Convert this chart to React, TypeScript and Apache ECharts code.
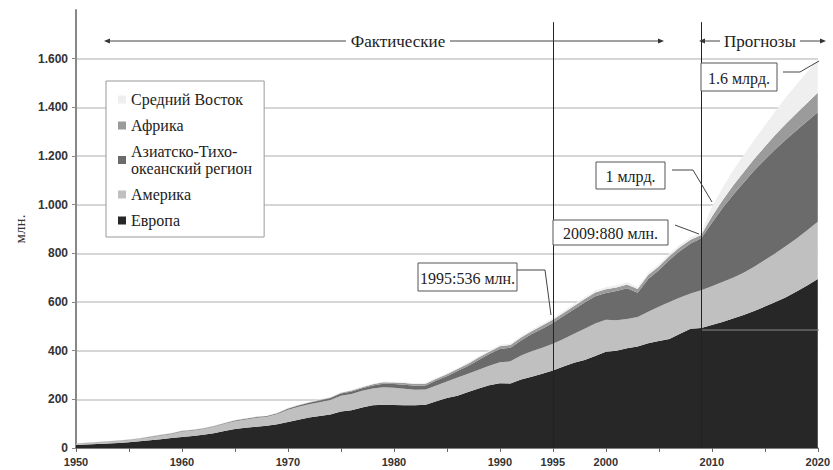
import React, { useEffect, useRef } from "react";
import * as echarts from "echarts";

const START_YEAR = 1950;

const europe = [
  12, 14, 16, 18, 21, 24, 28, 32, 36, 41,
  45, 49, 54, 61, 70, 78, 83, 87, 91, 98,
  107, 116, 125, 132, 138, 150, 155, 166, 176, 178,
  177, 176, 176, 178, 192, 205, 215, 230, 245, 258,
  266, 265, 282, 293, 305, 318, 335, 350, 362, 378,
  396, 400, 410, 417, 430, 440, 448, 470, 490, 493,
  505, 518, 532, 547, 563, 581, 600, 620, 643, 668,
  695,
];

const america = [
  5, 6, 7, 8, 8, 9, 10, 12, 15, 17,
  23, 23, 24, 26, 30, 32, 34, 37, 37, 42,
  50, 54, 55, 56, 59, 65, 67, 69, 69, 72,
  71, 68, 63, 62, 65, 68, 75, 75, 77, 80,
  86, 91, 98, 105, 107, 110, 113, 120, 128, 134,
  131, 125, 120, 121, 130, 140, 152, 148, 145, 155,
  160, 164, 168, 173, 182, 192, 200, 210, 218, 227,
  235,
];

const asiaPacific = [
  1, 1, 1, 1, 1, 1, 1, 2, 2, 2,
  2, 2, 2, 2, 2, 3, 3, 3, 3, 3,
  4, 5, 6, 7, 8, 9, 10, 11, 12, 14,
  15, 16, 17, 17, 20, 22, 26, 32, 40, 48,
  55, 56, 62, 70, 78, 86, 94, 100, 108, 112,
  110, 120, 127, 100, 135, 150, 173, 192, 205, 214,
  260, 303, 340, 370, 395, 412, 428, 438, 445, 448,
  450,
];

const africa = [
  1, 1, 1, 1, 1, 1, 1, 1, 1, 1,
  1, 1, 1, 1, 1, 1, 1, 1, 1, 1,
  2, 2, 2, 3, 3, 3, 4, 4, 5, 6,
  6, 7, 7, 7, 8, 8, 9, 9, 10, 10,
  11, 11, 12, 12, 13, 13, 13, 14, 14, 15,
  15, 15, 15, 15, 16, 16, 16, 16, 16, 13,
  25, 32, 38, 43, 48, 53, 59, 65, 70, 75,
  80,
];

const middleEast = [
  1, 1, 1, 1, 1, 1, 1, 1, 1, 1,
  1, 1, 1, 1, 1, 1, 1, 1, 1, 1,
  2, 2, 2, 2, 2, 2, 2, 2, 2, 2,
  3, 3, 3, 4, 4, 4, 4, 5, 5, 5,
  6, 6, 6, 7, 7, 7, 8, 8, 8, 8,
  9, 9, 9, 9, 9, 9, 10, 10, 10, 8,
  40, 52, 62, 70, 78, 87, 97, 108, 118, 127,
  135,
];

const years = europe.map((_, i) => String(START_YEAR + i));

const seriesNames = [
  "Европа",
  "Америка",
  "Азиатско-Тихоокеанский регион",
  "Африка",
  "Средний Восток",
];
const seriesColors = ["#272727", "#c0c0c0", "#6b6b6b", "#9b9b9b", "#efefef"];
const seriesValues = [europe, america, asiaPacific, africa, middleEast];

const legendOrder = [
  "Средний Восток",
  "Африка",
  "Азиатско-Тихоокеанский регион",
  "Америка",
  "Европа",
];

const xLabelYears = ["1950", "1960", "1970", "1980", "1990", "1995", "2000", "2010", "2020"];
const markerYears = ["1995", "2009"];

const SERIF = "'Liberation Serif', 'DejaVu Serif', serif";
const SANS = "'Liberation Sans', Arial, sans-serif";

function fmtThousands(v: number): string {
  const s = String(v);
  return s.length > 3 ? s.slice(0, s.length - 3) + "." + s.slice(s.length - 3) : s;
}

function boxLabel(x: number, y: number, w: number, h: number, text: string) {
  return [
    {
      type: "rect",
      shape: { x, y, width: w, height: h },
      style: { fill: "#fff", stroke: "#555", lineWidth: 1 },
      z: 100,
    },
    {
      type: "text",
      x: x + w / 2,
      y: y + h / 2 + 1,
      style: {
        text,
        font: `16px ${SERIF}`,
        fill: "#222",
        align: "center",
        verticalAlign: "middle",
      },
      z: 101,
    },
  ];
}

function leader(points: number[][]) {
  return {
    type: "polyline",
    shape: { points },
    style: { stroke: "#444", lineWidth: 1, fill: null },
    z: 100,
  };
}

function arrowHead(tipX: number, y: number, dir: number) {
  return {
    type: "polygon",
    shape: {
      points: [
        [tipX, y],
        [tipX - dir * 6, y - 2.5],
        [tipX - dir * 6, y + 2.5],
      ],
    },
    style: { fill: "#333" },
    z: 100,
  };
}

function hLine(x1: number, x2: number, y: number, color = "#444") {
  return {
    type: "line",
    shape: { x1, y1: y, x2, y2: y },
    style: { stroke: color, lineWidth: 1 },
    z: 100,
  };
}

export default function App() {
  const ref = useRef<HTMLDivElement>(null);

  useEffect(() => {
    if (!ref.current) return;
    const chart = echarts.init(ref.current, undefined, { renderer: "svg" });

    const series: any[] = seriesNames.map((name, si) => ({
      name,
      type: "line",
      stack: "total",
      symbol: "none",
      showSymbol: false,
      smooth: false,
      lineStyle: { width: 0 },
      areaStyle: { color: seriesColors[si], opacity: 1 },
      itemStyle: { color: seriesColors[si] },
      data: seriesValues[si],
    }));

    series[series.length - 1].markLine = {
      silent: true,
      symbol: "none",
      label: { show: false },
      lineStyle: { color: "#222", width: 1, type: "solid" },
      data: markerYears.map((yr) => [
        { coord: [yr, 1750] },
        { coord: [yr, 0] },
      ]),
    };

    const graphic: any[] = [
      arrowHead(104, 41, -1),
      hLine(108, 346, 41),
      {
        type: "text",
        x: 398,
        y: 41,
        style: {
          text: "Фактические",
          font: `17px ${SERIF}`,
          fill: "#222",
          align: "center",
          verticalAlign: "middle",
        },
        z: 100,
      },
      hLine(450, 660, 41),
      arrowHead(664, 41, 1),
      arrowHead(699, 41, -1),
      hLine(703, 720, 41),
      {
        type: "text",
        x: 760,
        y: 41,
        style: {
          text: "Прогнозы",
          font: `17px ${SERIF}`,
          fill: "#222",
          align: "center",
          verticalAlign: "middle",
        },
        z: 100,
      },
      hLine(800, 822, 41),
      arrowHead(826, 41, 1),
      ...boxLabel(418, 263, 99, 28, "1995:536 млн."),
      leader([
        [517, 270],
        [545, 270],
        [551, 315],
      ]),
      ...boxLabel(553, 220, 115, 25, "2009:880 млн."),
      leader([
        [675, 225],
        [699, 234],
      ]),
      ...boxLabel(596, 162, 69, 27, "1 млрд."),
      leader([
        [672, 170],
        [693, 170],
        [712, 202],
      ]),
      ...boxLabel(701, 63, 76, 28, "1.6 млрд."),
      leader([
        [783, 72],
        [800, 72],
        [819, 61],
      ]),
      hLine(702, 819, 330, "#8a8a8a"),
    ];

    chart.setOption({
      animation: false,
      backgroundColor: "#fff",
      grid: { left: 76, right: 14, top: 10, bottom: 22, containLabel: false },
      legend: {
        orient: "vertical",
        left: 106,
        top: 81,
        padding: [10, 12, 8, 12],
        itemGap: 9,
        itemWidth: 8,
        itemHeight: 8,
        icon: "rect",
        borderColor: "#999",
        borderWidth: 1,
        backgroundColor: "#fff",
        selectedMode: false,
        data: legendOrder,
        formatter: (name: string) =>
          name === "Азиатско-Тихоокеанский регион"
            ? "Азиатско-Тихо-\nокеанский регион"
            : name,
        textStyle: {
          fontFamily: SERIF,
          fontSize: 16,
          lineHeight: 17,
          color: "#222",
        },
      },
      xAxis: {
        type: "category",
        data: years,
        boundaryGap: false,
        axisLine: { show: true, lineStyle: { color: "#555", width: 1.5 } },
        axisTick: {
          show: true,
          length: 4,
          interval: (_i: number, v: string) => Number(v) % 5 === 0,
          lineStyle: { color: "#666" },
        },
        splitLine: { show: false },
        axisLabel: {
          margin: 8,
          interval: (_i: number, v: string) => xLabelYears.includes(v),
          fontFamily: SANS,
          fontWeight: "bold",
          fontSize: 11,
          color: "#333",
        },
      },
      yAxis: {
        type: "value",
        min: 0,
        max: 1800,
        interval: 200,
        name: "млн.",
        nameLocation: "middle",
        nameGap: 44,
        nameRotate: 90,
        nameTextStyle: { fontFamily: SERIF, fontSize: 15, color: "#333" },
        axisLine: { show: true, lineStyle: { color: "#888", width: 2 } },
        axisTick: { show: true, length: 4, lineStyle: { color: "#888" } },
        axisLabel: {
          showMaxLabel: false,
          margin: 8,
          fontFamily: SANS,
          fontWeight: "bold",
          fontSize: 12,
          color: "#333",
          formatter: (v: number) => fmtThousands(v),
        },
        splitLine: {
          show: true,
          showMinLine: false,
          showMaxLine: false,
          lineStyle: { color: "#c9c9c9", width: 1.5 },
        },
      },
      series,
      graphic,
    });

    return () => chart.dispose();
  }, []);

  return (
    <div
      ref={ref}
      style={{ position: "fixed", left: 0, top: 0, width: 833, height: 470 }}
    />
  );
}
